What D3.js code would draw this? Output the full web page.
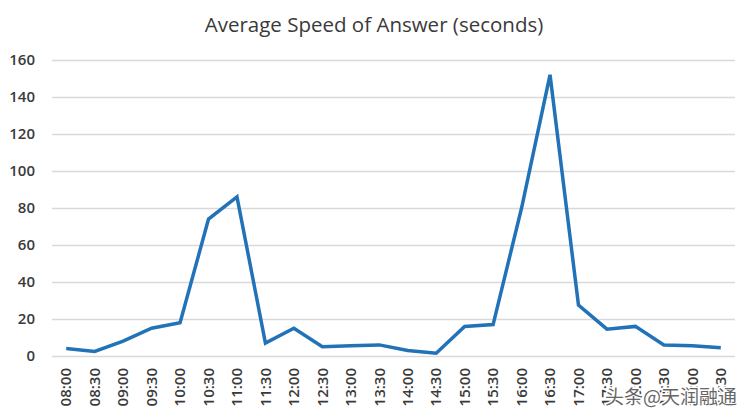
<!DOCTYPE html>
<html><head><meta charset="utf-8">
<script src="https://cdn.jsdelivr.net/npm/d3@7"></script>
<style>html,body{margin:0;padding:0;background:#fff;}</style>
</head><body>
<svg id="c" width="750" height="417"></svg>
<script>
const categories = ["08:00","08:30","09:00","09:30","10:00","10:30","11:00","11:30","12:00","12:30","13:00","13:30","14:00","14:30","15:00","15:30","16:00","16:30","17:00","17:30","18:00","18:30","19:00","19:30"];
const values = [4,2.5,8,15,18,74,86,7,15,5,5.5,6,3,1.5,16,17,80,152,27.5,14.5,16,6,5.5,4.5];
const yTicks = [0,20,40,60,80,100,120,140,160];
const titleText = "Average Speed of Answer (seconds)";
const watermark = "头条@天润融通";

(function(){
const svg = d3.select("#c");
const mLeft = 52, mRight = 735, mTop = 60, mBottom = 356;
const x = d3.scaleBand().domain(categories).range([mLeft, mRight]);
const y = d3.scaleLinear().domain([0,160]).range([mBottom, mTop]);

svg.append("text").attr("x", 374).attr("y", 32).attr("text-anchor","middle")
  .attr("font-family","Open Sans, sans-serif").attr("font-size",20.5).attr("fill","#3a3a3a")
  .text(titleText);

const yAxis = d3.axisLeft(y).tickValues(yTicks).tickSize(-(mRight-mLeft)).tickPadding(17);
const gy = svg.append("g").attr("transform",`translate(${mLeft},0)`).call(yAxis);
gy.select(".domain").remove();
gy.selectAll(".tick line").attr("stroke","#d9d9d9").attr("stroke-width",1.3);
gy.selectAll(".tick text").attr("font-family","Open Sans, sans-serif").attr("font-size",15)
  .attr("font-weight",600).attr("fill","#3a3a3a");

const xAxis = d3.axisBottom(x).tickSize(0).tickPadding(0);
const gx = svg.append("g").attr("transform",`translate(0,${mBottom})`).call(xAxis);
gx.select(".domain").remove();
gx.selectAll(".tick text").attr("font-family","Open Sans, sans-serif").attr("font-size",15)
  .attr("font-weight",600).attr("fill","#3a3a3a")
  .attr("text-anchor","end").attr("dy","0.35em")
  .attr("transform","translate(0,12) rotate(-90)");

const line = d3.line().x((d,i)=>x(categories[i]) + x.bandwidth()/2).y(d=>y(d));
svg.append("path").datum(values).attr("d", line).attr("fill","none")
  .attr("stroke","#2272b8").attr("stroke-width",3.5).attr("stroke-linejoin","miter");

svg.append("text").attr("x", 737).attr("y", 404).attr("text-anchor","end")
  .attr("font-family","Noto Sans CJK SC, sans-serif").attr("font-size",19)
  .attr("fill","#666").attr("stroke","#fff").attr("stroke-width",3).attr("paint-order","stroke")
  .text(watermark);
})();
</script>
</body></html>
